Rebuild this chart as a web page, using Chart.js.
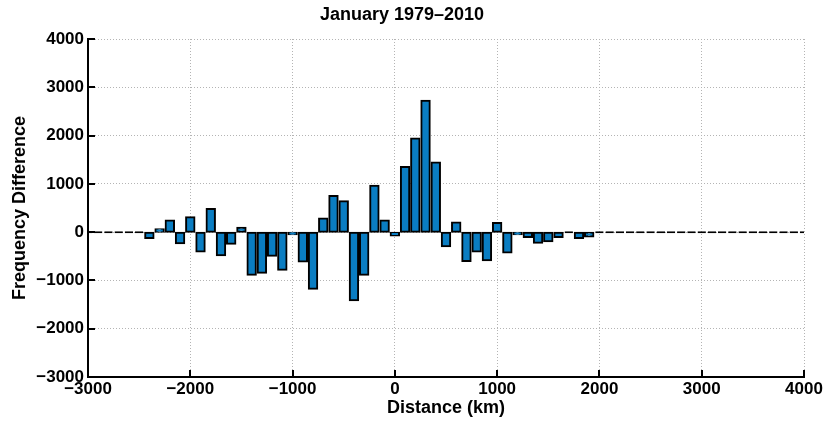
<!DOCTYPE html>
<html>
<head>
<meta charset="utf-8">
<script src="https://cdn.jsdelivr.net/npm/chart.js@4.4.1/dist/chart.umd.min.js"></script>
<style>
  html, body { margin: 0; padding: 0; background: #ffffff; }
  #wrap { width: 828px; height: 423px; position: relative; }
</style>
</head>
<body>
<div id="wrap"><canvas id="c" width="828" height="423"></canvas></div>
<script>
// Bin centres (km)
const distances = [
  -3000, -2900, -2800, -2700, -2600, -2500, -2400, -2300, -2200, -2100,
  -2000, -1900, -1800, -1700, -1600, -1500, -1400, -1300, -1200, -1100,
  -1000, -900, -800, -700, -600, -500, -400, -300, -200, -100,
  0, 100, 200, 300, 400, 500, 600, 700, 800, 900,
  1000, 1100, 1200, 1300, 1400, 1500, 1600, 1700, 1800, 1900,
  2000, 2100, 2200, 2300, 2400, 2500, 2600, 2700, 2800, 2900,
  3000, 3100, 3200, 3300, 3400, 3500, 3600, 3700, 3800, 3900,
  4000
];
// Frequency difference per bin
const freqDiff = [
  0, 0, 0, 0, 0, 0, -120, 60, 240, -230,
  310, -400, 480, -480, -240, 90, -880, -840, -490, -780,
  -40, -610, -1170, 280, 750, 640, -1410, -880, 960, 240,
  -70, 1350, 1940, 2720, 1440, -290, 200, -600, -400, -580,
  190, -420, -30, -100, -220, -190, -100, 0, -120, -90,
  0, 0, 0, 0, 0, 0, 0, 0, 0, 0,
  0, 0, 0, 0, 0, 0, 0, 0, 0, 0,
  0
];
const xTickValues = [-3000, -2000, -1000, 0, 1000, 2000, 3000, 4000];
const xTickLabels = ['\u22123000', '\u22122000', '\u22121000', '0', '1000', '2000', '3000', '4000'];
const yTickValues = [-3000, -2000, -1000, 0, 1000, 2000, 3000, 4000];
const yTickLabels = ['\u22123000', '\u22122000', '\u22121000', '0', '1000', '2000', '3000', '4000'];

const titleText = 'January 1979\u20132010';
const xTitle = 'Distance (km)';
const yTitle = 'Frequency Difference';

Chart.defaults.font.family = '"Liberation Sans", Arial, Helvetica, sans-serif';
Chart.defaults.color = '#000';

const innerTicks = {
  id: 'innerTicks',
  afterDatasetsDraw(chart) {
    const { ctx, chartArea: a, scales: { x, y } } = chart;
    ctx.save();
    ctx.strokeStyle = '#000';
    ctx.lineWidth = 2;
    ctx.beginPath();
    x.ticks.forEach(t => {
      const px = Math.round(x.getPixelForValue(t.value));
      ctx.moveTo(px, a.bottom);
      ctx.lineTo(px, a.bottom - 7);
    });
    y.ticks.forEach(t => {
      const py = Math.round(y.getPixelForValue(t.value));
      ctx.moveTo(a.left, py);
      ctx.lineTo(a.left + 7, py);
    });
    ctx.stroke();
    ctx.restore();
  }
};

const labelFor = (vals, labs) => v => {
  const i = vals.indexOf(v);
  return i >= 0 ? labs[i] : '';
};

new Chart(document.getElementById('c'), {
  type: 'bar',
  data: {
    datasets: [{
      data: distances.map((d, i) => ({ x: d, y: freqDiff[i] })),
      backgroundColor: '#0a7dc2',
      borderColor: '#000000',
      borderWidth: 2,
      borderSkipped: false,
      minBarLength: 2,
      inflateAmount: ctx => (ctx.raw && ctx.raw.y === 0) ? 0 : 1,
      barPercentage: 0.82,
      categoryPercentage: 1.0,
      clip: 0
    }]
  },
  options: {
    responsive: false,
    animation: false,
    devicePixelRatio: 1,
    layout: { padding: { left: 0, right: 24, top: 0, bottom: 0 } },
    plugins: {
      legend: { display: false },
      tooltip: { enabled: false },
      title: {
        display: true,
        text: titleText,
        font: { size: 18, weight: 'bold' },
        color: '#000',
        padding: { top: 4, bottom: 13.4 }
      }
    },
    scales: {
      x: {
        type: 'linear',
        min: -3000,
        max: 4000,
        offset: false,
        afterBuildTicks: s => { s.ticks = xTickValues.map(v => ({ value: v })); },
        afterFit: s => { s.height = 46; },
        ticks: {
          callback: labelFor(xTickValues, xTickLabels),
          font: { size: 17, weight: 'bold' },
          color: '#000',
          padding: 2,
          maxRotation: 0,
          autoSkip: false
        },
        grid: {
          offset: false,
          drawTicks: false,
          color: '#b4b4b4',
          lineWidth: 1
        },
        border: { display: true, color: '#000', width: 2, dash: [1, 2] },
        title: {
          display: true,
          text: xTitle,
          font: { size: 18, weight: 'bold' },
          color: '#000',
          padding: { top: 0, bottom: 4 }
        }
      },
      y: {
        type: 'linear',
        min: -3000,
        max: 4000,
        afterBuildTicks: s => { s.ticks = yTickValues.map(v => ({ value: v })); },
        afterFit: s => { s.width = 88; },
        ticks: {
          callback: labelFor(yTickValues, yTickLabels),
          font: { size: 17, weight: 'bold' },
          color: '#000',
          padding: 4
        },
        grid: {
          drawTicks: false,
          color: '#b4b4b4',
          lineWidth: 1
        },
        border: { display: true, color: '#000', width: 2, dash: [1, 2] },
        title: {
          display: true,
          text: yTitle,
          font: { size: 18, weight: 'bold' },
          color: '#000',
          padding: { top: 9, bottom: 0 }
        }
      }
    }
  },
  plugins: [innerTicks]
});
</script>
</body>
</html>
